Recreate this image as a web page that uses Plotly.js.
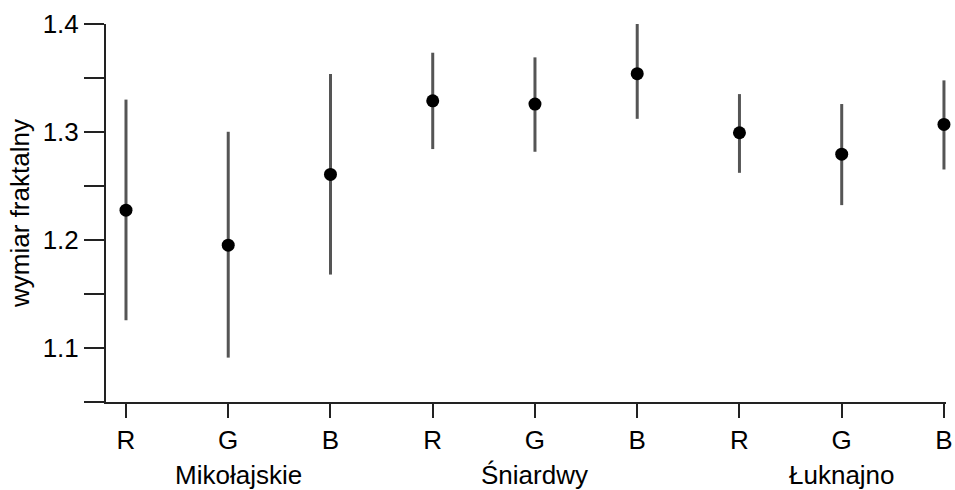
<!DOCTYPE html>
<html>
<head>
<meta charset="utf-8">
<script src="https://cdn.plot.ly/plotly-3.0.1.min.js"></script>
<style>html,body{margin:0;padding:0;background:#fff;}#chart{width:955px;height:490px;}</style>
</head>
<body>
<div id="chart"></div>
<script>
// Data
var tickLabels = ['R', 'G', 'B', 'R', 'G', 'B', 'R', 'G', 'B'];
var groupNames = ['Mikołajskie', 'Śniardwy', 'Łuknajno'];
var meanValues = [1.2276, 1.1952, 1.2607, 1.3289, 1.3259, 1.3540, 1.2993, 1.2795, 1.3070];
var upperValues = [1.3300, 1.3002, 1.3537, 1.3734, 1.3691, 1.4006, 1.3351, 1.3259, 1.3478];
var lowerValues = [1.1257, 1.0911, 1.1680, 1.2842, 1.2817, 1.3122, 1.2622, 1.2323, 1.2653];
var yTickVals = [1.1, 1.2, 1.3, 1.4];
var yMinorVals = [1.05, 1.15, 1.25, 1.35];

var xPos = tickLabels.map(function (_, i) { return i; });
var errPlus = upperValues.map(function (u, i) { return u - meanValues[i]; });
var errMinus = lowerValues.map(function (l, i) { return meanValues[i] - l; });

var font = 'Liberation Sans, Arial, Helvetica, sans-serif';

var trace = {
  type: 'scatter',
  mode: 'markers',
  x: xPos,
  y: meanValues,
  cliponaxis: false,
  marker: { color: '#000', size: 13 },
  error_y: {
    type: 'data', symmetric: false,
    array: errPlus, arrayminus: errMinus,
    color: '#555', thickness: 3, width: 0
  },
  hoverinfo: 'skip'
};

var annotations = groupNames.map(function (g, k) {
  return {
    text: g, x: 3 * k + 1, xref: 'x', y: 0, yref: 'paper',
    yanchor: 'top', xanchor: 'center', yshift: -56, xshift: (k === 0 ? 10 : 0),
    showarrow: false, font: { family: font, size: 26, color: '#000' }
  };
});

var layout = {
  width: 955, height: 490,
  margin: { l: 106, r: 9, t: 24, b: 88 },
  paper_bgcolor: '#fff', plot_bgcolor: '#fff',
  showlegend: false,
  font: { family: font, size: 26, color: '#000' },
  xaxis: {
    range: [-0.1955, 8.02],
    tickvals: xPos, ticktext: tickLabels,
    showgrid: false, zeroline: false,
    showline: true, linecolor: '#222', linewidth: 2,
    ticks: 'outside', ticklen: 14, tickwidth: 2, tickcolor: '#222',
    tickfont: { family: font, size: 26, color: '#000' },
    fixedrange: true
  },
  yaxis: {
    range: [1.05, 1.4],
    tickvals: yTickVals, ticktext: yTickVals.map(function (v) { return v.toFixed(1); }),
    showgrid: false, zeroline: false,
    showline: true, linecolor: '#222', linewidth: 2,
    ticks: 'outside', ticklen: 20, tickwidth: 2, tickcolor: '#222',
    minor: { tickvals: yMinorVals, ticks: 'outside', ticklen: 20, tickwidth: 2, tickcolor: '#222', showgrid: false },
    tickfont: { family: font, size: 26, color: '#000' },
    title: { text: 'wymiar fraktalny', font: { family: font, size: 26, color: '#000' }, standoff: 6 },
    automargin: false,
    fixedrange: true
  },
  annotations: annotations
};

Plotly.newPlot('chart', [trace], layout, { displayModeBar: false, staticPlot: true });
</script>
</body>
</html>
